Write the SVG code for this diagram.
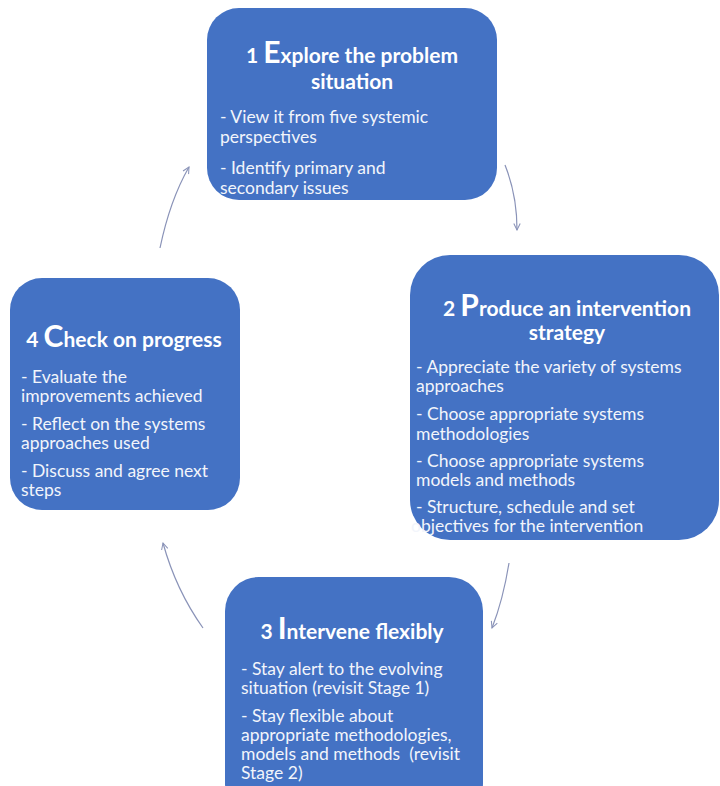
<svg xmlns="http://www.w3.org/2000/svg" width="720" height="786" viewBox="0 0 720 786">
<defs>
<style>
.box{fill:#4472C4;}
.t{font-family:Lato,"Liberation Sans",sans-serif;font-weight:bold;font-size:21px;fill:#ffffff;text-anchor:middle;}
.big{font-size:30px;}
.b{font-family:Lato,"Liberation Sans",sans-serif;font-size:17.5px;fill:#f2f5fb;}
.c{fill:none;stroke:#8a93b8;stroke-width:1.2;}
</style>
<marker id="ah" viewBox="0 0 10 10" refX="9" refY="5" markerWidth="8" markerHeight="8" orient="auto" markerUnits="userSpaceOnUse">
<path d="M1,1 L9,5 L1,9" fill="none" stroke="#8a93b8" stroke-width="1.3"/>
</marker>
</defs>
<rect width="720" height="786" fill="#ffffff"/>
<g id="connectors">
<path class="c" d="M160,248 Q170,200 189,167" marker-end="url(#ah)"/>
<path class="c" d="M505,165 Q517,195 517,230" marker-end="url(#ah)"/>
<path class="c" d="M509,563 Q503,600 492,628" marker-end="url(#ah)"/>
<path class="c" d="M203,628 Q176,590 163,543" marker-end="url(#ah)"/>
</g>
<g id="node1">
<rect class="box" x="207" y="8" width="290" height="192" rx="32"/>
<text class="t" x="352" y="63">1 <tspan class="big">E</tspan>xplore the problem</text>
<text class="t" x="352" y="89">situation</text>
<text class="b" x="220" y="123">- View it from five systemic</text>
<text class="b" x="220" y="143">perspectives</text>
<text class="b" x="220" y="174">- Identify primary and</text>
<text class="b" x="220" y="194">secondary issues</text>
</g>
<g id="node2">
<rect class="box" x="410" y="255" width="309" height="285" rx="40"/>
<text class="t" x="567" y="316">2 <tspan class="big">P</tspan>roduce an intervention</text>
<text class="t" x="567" y="340">strategy</text>
<text class="b" x="416" y="373">- Appreciate the variety of systems</text>
<text class="b" x="416" y="392">approaches</text>
<text class="b" x="416" y="420">- Choose appropriate systems</text>
<text class="b" x="416" y="440">methodologies</text>
<text class="b" x="416" y="467">- Choose appropriate systems</text>
<text class="b" x="416" y="486">models and methods</text>
<text class="b" x="416" y="513">- Structure, schedule and set</text>
<text class="b" x="411" y="532">objectives for the intervention</text>
</g>
<g id="node4">
<rect class="box" x="10" y="278" width="230" height="232" rx="32"/>
<text class="t" x="124" y="347">4 <tspan class="big">C</tspan>heck on progress</text>
<text class="b" x="21" y="383">- Evaluate the</text>
<text class="b" x="21" y="402">improvements achieved</text>
<text class="b" x="21" y="430">- Reflect on the systems</text>
<text class="b" x="21" y="449">approaches used</text>
<text class="b" x="21" y="477">- Discuss and agree next</text>
<text class="b" x="21" y="496">steps</text>
</g>
<g id="node3">
<rect class="box" x="225" y="577" width="258" height="240" rx="34"/>
<text class="t" x="352" y="639">3 <tspan class="big">I</tspan>ntervene flexibly</text>
<text class="b" x="241" y="675">- Stay alert to the evolving</text>
<text class="b" x="241" y="694">situation (revisit Stage 1)</text>
<text class="b" x="241" y="722">- Stay flexible about</text>
<text class="b" x="241" y="741">appropriate methodologies,</text>
<text class="b" x="241" y="760" xml:space="preserve">models and methods  (revisit</text>
<text class="b" x="241" y="779">Stage 2)</text>
</g>
</svg>
